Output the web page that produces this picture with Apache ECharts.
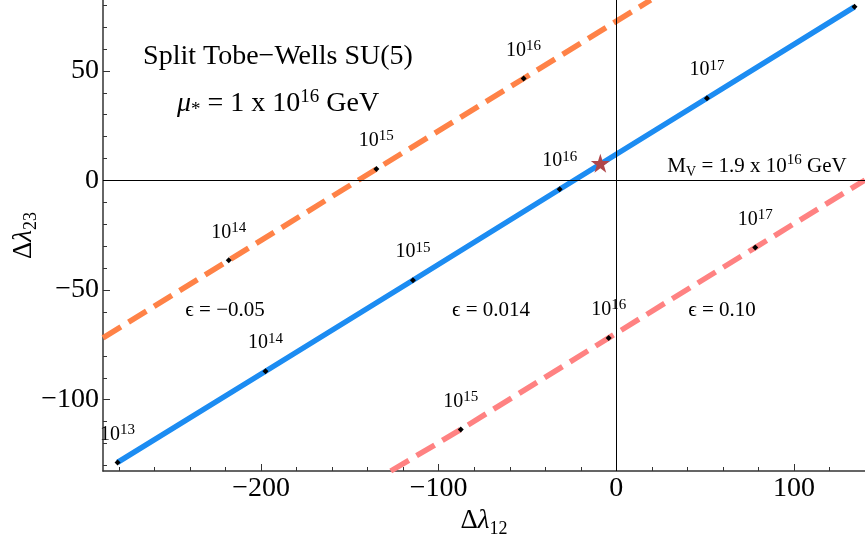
<!DOCTYPE html>
<html>
<head>
<meta charset="utf-8">
<script src="https://cdn.jsdelivr.net/npm/echarts@6/dist/echarts.min.js"></script>
<style>html,body{margin:0;padding:0;background:#fff;}#c{width:865px;height:535px;}</style>
</head>
<body>
<div id="c"></div>
<script>
// ---- axis ranges and ticks ----
const xRange = [-289, 140];
const yRange = [-132.5, 82.3];
const xTicks = [-200, -100, 0, 100];
const xMinorTicks = [-280, -260, -240, -220, -180, -160, -140, -120, -80, -60, -40, -20, 20, 40, 60, 80, 120, 140];
const yTicks = [-100, -50, 0, 50];
const yMinorTicks = [-130, -120, -110, -90, -80, -70, -60, -40, -30, -20, -10, 10, 20, 30, 40, 60, 70, 80];

// ---- epsilon = 0.014 (solid blue) ----
const blueMuExp = [13, 14, 15, 16, 17, 18];
const blueX = [-280.8, -197.5, -114.5, -31.9, 51.0, 134.1];
const blueY = [-128.6, -87.0, -45.5, -4.0, 37.5, 79.2];

// ---- epsilon = -0.05 (dashed orange) ----
const orangeMuExp = [14, 15, 16];
const orangeX = [-218.2, -135.1, -52.2];
const orangeY = [-36.4, 5.2, 46.5];
const orangeEdgeX = [-289, 19.4];
const orangeEdgeY = [-71.8, 82.3];

// ---- epsilon = 0.10 (dashed pink) ----
const pinkMuExp = [15, 16, 17];
const pinkX = [-87.6, -4.3, 78.2];
const pinkY = [-113.6, -71.8, -30.6];
const pinkEdgeX = [-127, 140];
const pinkEdgeY = [-132.5, 0.2];

// ---- unification point (star) ----
const starX = [-9.0];
const starY = [7.8];

const FONT = "'Liberation Serif','DejaVu Serif',serif";
const minus = v => String(v).replace('-', '\u2212');

function zip(xs, ys) { return xs.map((x, i) => [x, ys[i]]); }
function lineData(ex, ey, xs, ys) {
  const pts = zip(xs, ys);
  return [[ex[0], ey[0]], ...pts, [ex[1], ey[1]]];
}
function dotData(xs, ys, exps) { return xs.map((x, i) => ({ value: [x, ys[i]], exp: exps[i] })); }

const powRich = {
  b: { fontFamily: FONT, fontSize: 20, lineHeight: 22, color: '#000', verticalAlign: 'bottom' },
  s: { fontFamily: FONT, fontSize: 15, lineHeight: 15, color: '#000', verticalAlign: 'top' }
};
const dotLabel = {
  show: true, position: 'top', distance: 15, color: '#000', textBorderWidth: 0,
  formatter: p => p.data.exp >= 18 ? '' : '{b|10}{s|' + p.data.exp + '}',
  rich: powRich
};

const starPath = 'path://M50,0 L61.8,35.4 L99,35.4 L68.9,57.3 L80.4,92.7 L50,70.8 L19.6,92.7 L31.1,57.3 L1,35.4 L38.2,35.4 Z';

const axisCommon = {
  type: 'value', splitLine: { show: false }
};
const nameRich = {
  b: { fontFamily: FONT, fontSize: 27, lineHeight: 30, color: '#000', verticalAlign: 'top' },
  i: { fontFamily: FONT, fontSize: 27, fontStyle: 'italic', lineHeight: 30, color: '#000', verticalAlign: 'top' },
  s: { fontFamily: FONT, fontSize: 18, lineHeight: 22, color: '#000', verticalAlign: 'bottom' }
};

const option = {
  animation: false,
  backgroundColor: '#fff',
  grid: { left: 103, right: 0, top: 0, bottom: 64, containLabel: false, outerBoundsMode: 'none' },
  xAxis: [
    Object.assign({}, axisCommon, {
      min: xRange[0], max: xRange[1], position: 'bottom',
      axisLine: { show: true, onZero: false, lineStyle: { color: '#333', width: 1.5 } },
      axisTick: { show: true, inside: true, length: 7, customValues: xTicks, lineStyle: { color: '#333', width: 1 } },
      axisLabel: { customValues: xTicks, formatter: minus, color: '#000', fontFamily: FONT, fontSize: 28, margin: 4 },
      name: '{b|\u0394}{i|\u03bb}{s|12}', nameLocation: 'middle', nameGap: 35,
      nameTextStyle: { rich: nameRich }
    }),
    Object.assign({}, axisCommon, {
      min: xRange[0], max: xRange[1], position: 'bottom',
      axisLine: { show: false, onZero: false },
      axisTick: { show: true, inside: true, length: 4, customValues: xMinorTicks, lineStyle: { color: '#333', width: 1 } },
      axisLabel: { show: false }
    })
  ],
  yAxis: [
    Object.assign({}, axisCommon, {
      min: yRange[0], max: yRange[1], position: 'left',
      axisLine: { show: true, onZero: false, lineStyle: { color: '#333', width: 1.5 } },
      axisTick: { show: true, inside: true, length: 7, customValues: yTicks, lineStyle: { color: '#333', width: 1 } },
      axisLabel: { customValues: yTicks, formatter: minus, color: '#000', fontFamily: FONT, fontSize: 28, margin: 4 },
      name: '{b|\u0394}{i|\u03bb}{s|23}', nameLocation: 'middle', nameGap: 63, nameRotate: 90,
      nameMoveOverlap: false,
      nameTextStyle: { rich: nameRich }
    }),
    Object.assign({}, axisCommon, {
      min: yRange[0], max: yRange[1], position: 'left',
      axisLine: { show: false, onZero: false },
      axisTick: { show: true, inside: true, length: 4, customValues: yMinorTicks, lineStyle: { color: '#333', width: 1 } },
      axisLabel: { show: false }
    })
  ],
  series: [
    {
      type: 'line', data: [], silent: true, xAxisIndex: 0, yAxisIndex: 0,
      markLine: {
        silent: true, symbol: 'none', label: { show: false }, animation: false,
        lineStyle: { color: '#000', width: 1, type: 'solid' },
        data: [{ xAxis: 0 }, { yAxis: 0 }]
      }
    },
    {
      name: 'eps=-0.05', type: 'line', data: lineData(orangeEdgeX, orangeEdgeY, orangeX, orangeY),
      showSymbol: false, clip: true,
      lineStyle: { color: '#FF8247', width: 5.5, type: [21, 9], cap: 'butt' }
    },
    {
      name: 'eps=0.10', type: 'line', data: lineData(pinkEdgeX, pinkEdgeY, pinkX, pinkY),
      showSymbol: false, clip: true,
      lineStyle: { color: '#FF8282', width: 5.5, type: [21, 9], cap: 'butt' }
    },
    {
      name: 'eps=0.014', type: 'line', data: zip(blueX, blueY),
      showSymbol: false, clip: true,
      lineStyle: { color: '#1C8CF2', width: 5.5, type: 'solid' }
    },
    {
      type: 'scatter', symbol: 'diamond', symbolSize: 6, itemStyle: { color: '#000', opacity: 1 },
      data: dotData(blueX, blueY, blueMuExp), label: dotLabel, z: 5
    },
    {
      type: 'scatter', symbol: 'diamond', symbolSize: 6, itemStyle: { color: '#000', opacity: 1 },
      data: dotData(orangeX, orangeY, orangeMuExp), label: dotLabel, z: 5
    },
    {
      type: 'scatter', symbol: 'diamond', symbolSize: 6, itemStyle: { color: '#000', opacity: 1 },
      data: dotData(pinkX, pinkY, pinkMuExp), label: dotLabel, z: 5
    },
    {
      type: 'scatter', symbol: starPath, symbolSize: 19, itemStyle: { color: '#B0474A', opacity: 1 },
      data: zip(starX, starY), z: 6
    }
  ],
  graphic: [
    { type: 'text', x: 278, y: 57, style: { text: 'Split Tobe\u2212Wells SU(5)', font: '28px ' + FONT, fill: '#000', align: 'center', verticalAlign: 'middle' } },
    { type: 'text', x: 278, y: 104, style: {
      text: '{m|\u03bc}{sub|*}{t| = 1 x 10}{sup|16}{t| GeV}', align: 'center', verticalAlign: 'middle',
      rich: {
        m: { fontFamily: FONT, fontSize: 28, fontStyle: 'italic', lineHeight: 32, verticalAlign: 'middle', fill: '#000' },
        t: { fontFamily: FONT, fontSize: 28, lineHeight: 32, verticalAlign: 'middle', fill: '#000' },
        sup: { fontFamily: FONT, fontSize: 19, lineHeight: 19, verticalAlign: 'top', fill: '#000' },
        sub: { fontFamily: FONT, fontSize: 19, lineHeight: 22, verticalAlign: 'bottom', fill: '#000' }
      } } },
    { type: 'text', x: 757, y: 166, style: {
      text: '{t|M}{sub|V}{t| = 1.9 x 10}{sup|16}{t| GeV}', align: 'center', verticalAlign: 'middle',
      rich: {
        t: { fontFamily: FONT, fontSize: 21, lineHeight: 26, verticalAlign: 'middle', fill: '#000' },
        sup: { fontFamily: FONT, fontSize: 15, lineHeight: 15, verticalAlign: 'top', fill: '#000' },
        sub: { fontFamily: FONT, fontSize: 14, lineHeight: 16, verticalAlign: 'bottom', fill: '#000' }
      } } },
    { type: 'text', x: 225, y: 310, style: { text: '\u03f5 = \u22120.05', font: '21px ' + FONT, fill: '#000', align: 'center', verticalAlign: 'middle' } },
    { type: 'text', x: 491, y: 310, style: { text: '\u03f5 = 0.014', font: '21px ' + FONT, fill: '#000', align: 'center', verticalAlign: 'middle' } },
    { type: 'text', x: 722, y: 310, style: { text: '\u03f5 = 0.10', font: '21px ' + FONT, fill: '#000', align: 'center', verticalAlign: 'middle' } }
  ]
};

const chart = echarts.init(document.getElementById('c'), null, { renderer: 'canvas' });
chart.setOption(option);
</script>
</body>
</html>
